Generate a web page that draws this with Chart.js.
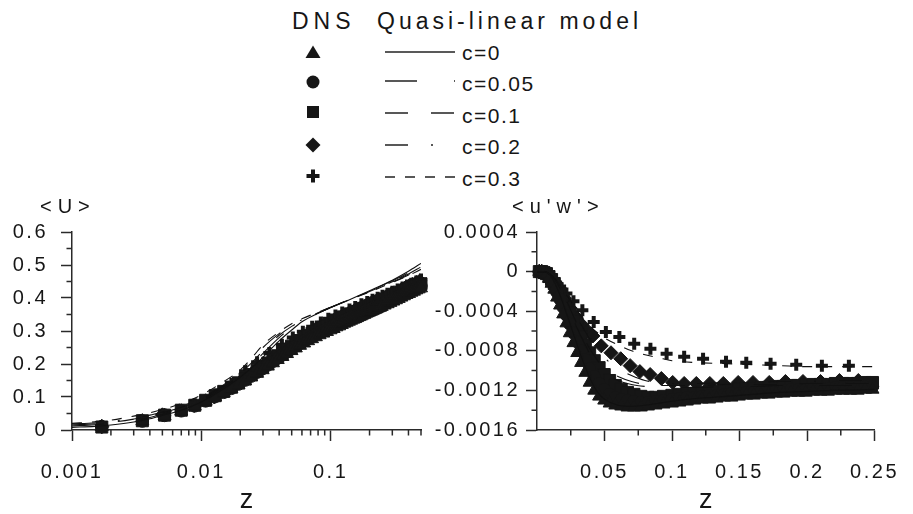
<!DOCTYPE html>
<html>
<head>
<meta charset="utf-8">
<script src="https://cdn.jsdelivr.net/npm/chart.js@4.4.1/dist/chart.umd.min.js"></script>
<style>
  html, body { margin:0; padding:0; background:#fff; width:913px; height:514px; overflow:hidden;
    font-family:"Liberation Sans", Arial, sans-serif; color:#161616; }
  #wrap { position:relative; width:913px; height:514px; }
  canvas { position:absolute; }
  #cL { left:0; top:190px; }
  #cR { left:430px; top:190px; }
  .lg { position:absolute; white-space:nowrap; line-height:1; }
  #lgsvg { position:absolute; left:0; top:0; }
</style>
</head>
<body>
<div id="wrap">
  <div class="lg" style="left:292px;top:10px;font-size:23px;letter-spacing:5px;">DNS</div>
  <div class="lg" style="left:377px;top:10px;font-size:23px;letter-spacing:4px;">Quasi-linear model</div>
  <svg id="lgsvg" width="913" height="200"></svg>
  <canvas id="cL" width="470" height="324"></canvas>
  <canvas id="cR" width="483" height="324"></canvas>
</div>
<script>
// ---------------- DATA ----------------
const legendLabels = ['c=0', 'c=0.05', 'c=0.1', 'c=0.2', 'c=0.3'];

// DNS wall-normal positions (triangles c=0, circles c=0.05, squares c=0.1)
const zDNS = [0.0017, 0.0035, 0.0052, 0.007, 0.0089, 0.0108, 0.0128, 0.0149, 0.0171, 0.0194,
  0.0218, 0.0243, 0.027, 0.0298, 0.0327, 0.0358, 0.039, 0.0424, 0.046, 0.0498,
  0.0538, 0.058, 0.0624, 0.067, 0.0718, 0.0769, 0.0822, 0.0878, 0.0937, 0.0999,
  0.1055, 0.111, 0.1165, 0.122, 0.1275, 0.133, 0.1385, 0.144, 0.1495, 0.155,
  0.1605, 0.166, 0.1715, 0.177, 0.1825, 0.188, 0.1935, 0.199, 0.2045, 0.21,
  0.2155, 0.221, 0.2265, 0.232, 0.2375, 0.243, 0.2485,
  0.262, 0.276, 0.29, 0.305, 0.32, 0.336, 0.352, 0.369, 0.386, 0.404, 0.422, 0.441, 0.46, 0.48, 0.5];
// DNS positions for diamonds (c=0.2) and crosses (c=0.3)
const zDia = [0.0017, 0.005, 0.0088, 0.0126, 0.0165, 0.0205, 0.0247, 0.029, 0.0335, 0.0375,
  0.0414, 0.0476, 0.0548, 0.062, 0.069, 0.0762, 0.0838, 0.0921, 0.1005, 0.109,
  0.118, 0.128, 0.138, 0.149, 0.16, 0.172, 0.184, 0.197, 0.21, 0.224,
  0.238, 0.252, 0.27, 0.29, 0.31, 0.33, 0.355, 0.38, 0.405, 0.43, 0.46, 0.49];
const zPlus = [0.0017, 0.0052, 0.0089, 0.0128, 0.0171, 0.0218, 0.027, 0.0336, 0.042, 0.051,
  0.061, 0.072, 0.084, 0.096, 0.109, 0.123, 0.14, 0.155, 0.173, 0.192,
  0.211, 0.231, 0.252, 0.275, 0.3, 0.33, 0.36, 0.39, 0.42, 0.46, 0.5];

// <U> DNS
const uTri = [0.010, 0.027, 0.043, 0.057, 0.072, 0.087, 0.1, 0.112, 0.124, 0.136,
  0.148, 0.16, 0.171, 0.182, 0.193, 0.203, 0.213, 0.222, 0.231, 0.24,
  0.248, 0.256, 0.263, 0.27, 0.276, 0.282, 0.288, 0.293, 0.298, 0.303,
  0.307, 0.312, 0.315, 0.319, 0.323, 0.326, 0.329, 0.332, 0.335, 0.337,
  0.34, 0.343, 0.345, 0.348, 0.35, 0.353, 0.355, 0.357, 0.359, 0.361,
  0.363, 0.365, 0.367, 0.369, 0.371, 0.372, 0.374,
  0.378, 0.382, 0.386, 0.39, 0.394, 0.398, 0.402, 0.406, 0.41, 0.413, 0.417, 0.42, 0.424, 0.427, 0.43];
const uCir = [0.010, 0.027, 0.044, 0.058, 0.073, 0.088, 0.101, 0.114, 0.126, 0.139,
  0.151, 0.163, 0.175, 0.186, 0.197, 0.208, 0.218, 0.228, 0.237, 0.246,
  0.255, 0.263, 0.27, 0.277, 0.284, 0.29, 0.296, 0.301, 0.307, 0.312,
  0.316, 0.321, 0.324, 0.328, 0.332, 0.335, 0.338, 0.341, 0.344, 0.346,
  0.349, 0.352, 0.354, 0.357, 0.359, 0.362, 0.364, 0.366, 0.368, 0.37,
  0.372, 0.374, 0.376, 0.378, 0.379, 0.38, 0.382,
  0.386, 0.39, 0.393, 0.397, 0.401, 0.405, 0.408, 0.412, 0.416, 0.419, 0.423, 0.426, 0.43, 0.433, 0.436];
const uSqr = [0.009, 0.028, 0.045, 0.06, 0.075, 0.09, 0.104, 0.117, 0.13, 0.143,
  0.155, 0.168, 0.18, 0.192, 0.203, 0.214, 0.225, 0.235, 0.245, 0.254,
  0.263, 0.271, 0.279, 0.286, 0.293, 0.299, 0.305, 0.311, 0.316, 0.322,
  0.326, 0.331, 0.334, 0.338, 0.342, 0.345, 0.348, 0.351, 0.354, 0.356,
  0.359, 0.362, 0.364, 0.367, 0.369, 0.372, 0.374, 0.376, 0.378, 0.38,
  0.382, 0.384, 0.386, 0.387, 0.388, 0.389, 0.391,
  0.394, 0.398, 0.402, 0.405, 0.409, 0.412, 0.416, 0.419, 0.423, 0.426, 0.43, 0.433, 0.436, 0.44, 0.443];
const uDia = [0.01, 0.046, 0.074, 0.1, 0.125, 0.15, 0.172, 0.19, 0.207, 0.22,
  0.232, 0.248, 0.263, 0.276, 0.287, 0.297, 0.306, 0.315, 0.323, 0.33,
  0.337, 0.344, 0.35, 0.356, 0.362, 0.368, 0.374, 0.379, 0.385, 0.39,
  0.395, 0.4, 0.405, 0.411, 0.416, 0.421, 0.427, 0.432, 0.437, 0.442, 0.447, 0.452];
const uPlus = [0.012, 0.047, 0.078, 0.108, 0.14, 0.178, 0.205, 0.233, 0.258, 0.28,
  0.298, 0.313, 0.326, 0.337, 0.347, 0.356, 0.365, 0.373, 0.381, 0.388,
  0.395, 0.401, 0.407, 0.413, 0.419, 0.426, 0.432, 0.438, 0.443, 0.45, 0.456];

// <u'w'> DNS (z <= 0.25)
const wTri = [0, 0, -0.00001, -0.00003, -0.00007, -0.00012, -0.00018, -0.00026, -0.00034, -0.00043,
  -0.00052, -0.00062, -0.00072, -0.00082, -0.00092, -0.00102, -0.00112, -0.0012, -0.00126, -0.0013,
  -0.00133, -0.00135, -0.00136, -0.00137, -0.00137, -0.00137, -0.00136, -0.00135, -0.00134, -0.00133,
  -0.00132, -0.00131, -0.0013, -0.00129, -0.00129, -0.00128, -0.00127, -0.00127, -0.00126, -0.00125,
  -0.00125, -0.00124, -0.00124, -0.00123, -0.00123, -0.00122, -0.00122, -0.00122, -0.00121, -0.00121,
  -0.00121, -0.0012, -0.0012, -0.0012, -0.0012, -0.00119, -0.00119];
const wCir = [0, 0, -0.00001, -0.00003, -0.00006, -0.0001, -0.00015, -0.00021, -0.00028, -0.00036,
  -0.00044, -0.00053, -0.00062, -0.00071, -0.0008, -0.00089, -0.00098, -0.00106, -0.00113, -0.00119,
  -0.00124, -0.00127, -0.00129, -0.0013, -0.00131, -0.00132, -0.00132, -0.00131, -0.0013, -0.00129,
  -0.00128, -0.00127, -0.00127, -0.00126, -0.00125, -0.00125, -0.00124, -0.00123, -0.00123, -0.00122,
  -0.00122, -0.00121, -0.00121, -0.0012, -0.0012, -0.00119, -0.00119, -0.00119, -0.00118, -0.00118,
  -0.00118, -0.00117, -0.00117, -0.00117, -0.00117, -0.00116, -0.00116];
const wSqr = [0, 0, -0.00001, -0.00002, -0.00005, -0.00008, -0.00012, -0.00017, -0.00022, -0.00028,
  -0.00035, -0.00042, -0.0005, -0.00058, -0.00066, -0.00074, -0.00082, -0.0009, -0.00097, -0.00104,
  -0.0011, -0.00115, -0.00119, -0.00122, -0.00124, -0.00126, -0.00127, -0.00127, -0.00126, -0.00125,
  -0.00124, -0.00123, -0.00123, -0.00122, -0.00121, -0.00121, -0.0012, -0.00119, -0.00119, -0.00118,
  -0.00118, -0.00117, -0.00117, -0.00116, -0.00116, -0.00115, -0.00115, -0.00115, -0.00114, -0.00114,
  -0.00114, -0.00113, -0.00113, -0.00113, -0.00113, -0.00112, -0.00112];
const wDia = [0, -0.00001, -0.00004, -0.0001, -0.00018, -0.00027, -0.00037, -0.00046, -0.00054, -0.0006,
  -0.00065, -0.00075, -0.00082, -0.00088, -0.00095, -0.00101, -0.00104, -0.00108, -0.00112, -0.00113,
  -0.00113, -0.00113, -0.00113, -0.00112, -0.00112, -0.00112, -0.00111, -0.00111, -0.00111, -0.0011, -0.0011];
const wPlus = [0, -0.00001, -0.00003, -0.00008, -0.00015, -0.00022, -0.0003, -0.00039, -0.00051, -0.00061,
  -0.00066, -0.00073, -0.00078, -0.00083, -0.00086, -0.00088, -0.00091, -0.00092, -0.00093, -0.00094,
  -0.00095, -0.00095];

// Quasi-linear model, <U>
const zModelU = [0.001, 0.0015, 0.002, 0.003, 0.004, 0.005, 0.007, 0.01, 0.014, 0.02, 0.025,
  0.03, 0.04, 0.05, 0.06, 0.08, 0.1, 0.14, 0.2, 0.3, 0.4, 0.5];
const uM0 = [0.008, 0.011, 0.015, 0.024, 0.034, 0.044, 0.06, 0.085, 0.118, 0.16, 0.192,
  0.221, 0.27, 0.303, 0.328, 0.354, 0.371, 0.395, 0.422, 0.454, 0.481, 0.505];
const uM1 = [0.012, 0.016, 0.02, 0.029, 0.038, 0.048, 0.065, 0.09, 0.123, 0.166, 0.2,
  0.232, 0.28, 0.31, 0.329, 0.354, 0.371, 0.395, 0.421, 0.452, 0.476, 0.498];
const uM2 = [0.015, 0.019, 0.023, 0.033, 0.042, 0.052, 0.069, 0.094, 0.127, 0.171, 0.207,
  0.24, 0.287, 0.314, 0.331, 0.355, 0.371, 0.395, 0.42, 0.45, 0.473, 0.494];
const uM3 = [0.018, 0.022, 0.026, 0.036, 0.045, 0.055, 0.072, 0.097, 0.13, 0.176, 0.215,
  0.25, 0.292, 0.318, 0.334, 0.356, 0.372, 0.395, 0.419, 0.449, 0.47, 0.49];
const uM4 = [0.02, 0.025, 0.03, 0.042, 0.052, 0.062, 0.08, 0.106, 0.14, 0.182, 0.222,
  0.258, 0.297, 0.322, 0.337, 0.357, 0.372, 0.395, 0.418, 0.447, 0.468, 0.487];

// Quasi-linear model, <u'w'>
const zModelW = [0, 0.005, 0.01, 0.015, 0.02, 0.025, 0.03, 0.035, 0.04, 0.045, 0.05, 0.06,
  0.07, 0.08, 0.09, 0.1, 0.12, 0.14, 0.16, 0.18, 0.2, 0.22, 0.25];
const wM0 = [0, 0, -0.00004, -0.00017, -0.00035, -0.00055, -0.00075, -0.00094, -0.0011, -0.00122, -0.00129, -0.00135,
  -0.00136, -0.00135, -0.00133, -0.00131, -0.00128, -0.00126, -0.00124, -0.00122, -0.00121, -0.0012, -0.00119];
const wM1 = [0, 0, -0.00003, -0.00012, -0.00026, -0.00042, -0.00058, -0.00072, -0.00085, -0.00095, -0.00102, -0.0011,
  -0.00114, -0.00116, -0.00117, -0.00117, -0.00117, -0.00116, -0.00116, -0.00115, -0.00115, -0.00115, -0.00115];
const wM2 = [0, 0, -0.00003, -0.00011, -0.00024, -0.00039, -0.00054, -0.00068, -0.0008, -0.0009, -0.00098, -0.00106,
  -0.00111, -0.00114, -0.00115, -0.00115, -0.00115, -0.00114, -0.00114, -0.00114, -0.00113, -0.00113, -0.00113];
const wM3 = [0, 0, -0.00003, -0.0001, -0.00021, -0.00034, -0.00047, -0.00059, -0.0007, -0.00079, -0.00087, -0.00098,
  -0.00105, -0.0011, -0.00112, -0.00113, -0.00113, -0.00112, -0.00112, -0.00111, -0.00111, -0.0011, -0.0011];
const wM4 = [0, 0, -0.00003, -0.0001, -0.0002, -0.0003, -0.0004, -0.00049, -0.00056, -0.00062, -0.00067, -0.00074,
  -0.0008, -0.00084, -0.00087, -0.0009, -0.00092, -0.00093, -0.00094, -0.00095, -0.00096, -0.00096, -0.00096];

// Ticks
const xMajorL = [0.001, 0.01, 0.1];
const xLabelsL = ['0.001', '0.01', '0.1'];
const xMinorL = [0.002, 0.003, 0.004, 0.005, 0.006, 0.007, 0.008, 0.009,
  0.02, 0.03, 0.04, 0.05, 0.06, 0.07, 0.08, 0.09, 0.2, 0.3, 0.4, 0.5];
const yMajorL = [0, 0.1, 0.2, 0.3, 0.4, 0.5, 0.6];
const yLabelsL = ['0', '0.1', '0.2', '0.3', '0.4', '0.5', '0.6'];
const yMinorL = [0.05, 0.15, 0.25, 0.35, 0.45, 0.55];
const xMajorR = [0.05, 0.1, 0.15, 0.2, 0.25];
const xLabelsR = ['0.05', '0.1', '0.15', '0.2', '0.25'];
const xMinorR = [0.025, 0.075, 0.125, 0.175, 0.225];
const yMajorR = [-0.0016, -0.0012, -0.0008, -0.0004, 0, 0.0004];
const yLabelsR = ['-0.0016', '-0.0012', '-0.0008', '-0.0004', '0', '0.0004'];
const yMinorR = [-0.0014, -0.001, -0.0006, -0.0002, 0.0002];

// ---------------- STYLE / BUILD ----------------
const INK = '#161616';
const AX = '#2a2a2a';
const FONT = '"Liberation Sans", Arial, sans-serif';
const dashes = [[], [32, 37], [23, 23], [23, 23, 2, 23], [10, 10]];

function pts(xs, ys) { return ys.map((v, i) => ({ x: xs[i], y: v })); }
function markerSet(data, style, r, bw) {
  return { data, showLine: false, pointStyle: style, pointRadius: r, pointHoverRadius: r,
    pointBackgroundColor: INK, pointBorderColor: INK, pointBorderWidth: bw, clip: false, order: 2 };
}
function lineSet(data, dash) {
  return { data, showLine: true, pointRadius: 0, pointHoverRadius: 0, borderColor: '#111',
    borderWidth: 1.1, borderDash: dash, fill: false, cubicInterpolationMode: 'monotone', order: 1 };
}
function dnsSets(a, b, c, d, e) {
  return [markerSet(a, 'triangle', 7.5, 1), markerSet(b, 'circle', 6.2, 1),
    markerSet(c, 'rect', 8.5, 1), markerSet(d, 'rectRot', 7, 1), markerSet(e, 'cross', 6, 4)];
}

function decoPlugin(cfg) {
  return {
    id: 'deco',
    beforeDraw(chart) { chart.ctx.letterSpacing = '2.5px'; },
    afterDraw(chart) {
      const ctx = chart.ctx, xs = chart.scales.x, ys = chart.scales.y, ca = chart.chartArea;
      ctx.save();
      ctx.letterSpacing = '0px';
      ctx.strokeStyle = AX; ctx.lineWidth = 1.5;
      ctx.beginPath();
      cfg.xMinor.forEach(v => { const p = xs.getPixelForValue(v); ctx.moveTo(p, ca.bottom); ctx.lineTo(p, ca.bottom + 5.5); });
      cfg.yMinor.forEach(v => { const p = ys.getPixelForValue(v); ctx.moveTo(ca.left, p); ctx.lineTo(ca.left - 5.5, p); });
      ctx.stroke();
      ctx.fillStyle = INK;
      ctx.font = '20px ' + FONT;
      ctx.letterSpacing = '6px';
      ctx.textAlign = 'left'; ctx.textBaseline = 'alphabetic';
      ctx.fillText(cfg.yTitle, ca.left + cfg.yTitleDx, ca.top - 19);
      ctx.letterSpacing = '0px';
      ctx.font = '27px ' + FONT;
      ctx.textAlign = 'center';
      ctx.fillText('z', (ca.left + ca.right) / 2, ca.bottom + 78);
      ctx.restore();
    }
  };
}

function scaleCfg(kind, type, min, max, majors, labels, fit, pad) {
  return {
    type, min, max, position: kind === 'x' ? 'bottom' : 'left',
    afterBuildTicks: s => { s.ticks = majors.map(v => ({ value: v })); },
    afterFit: s => { if (kind === 'x') s.height = fit; else s.width = fit; },
    ticks: { autoSkip: false, maxRotation: 0, minRotation: 0, padding: pad, color: INK,
      font: { family: FONT, size: 20 }, callback: (v, i) => labels[i] },
    grid: { display: true, drawOnChartArea: false, drawTicks: true, tickLength: 11, tickColor: AX, tickWidth: 1.5 },
    border: { display: true, color: AX, width: 1.5 }
  };
}

// Left chart: <U>
new Chart(document.getElementById('cL'), {
  type: 'scatter',
  data: { datasets: [
    lineSet(pts(zModelU, uM0), dashes[0]), lineSet(pts(zModelU, uM1), dashes[1]),
    lineSet(pts(zModelU, uM2), dashes[2]), lineSet(pts(zModelU, uM3), dashes[3]),
    lineSet(pts(zModelU, uM4), dashes[4]),
    ...dnsSets(pts(zDNS, uTri), pts(zDNS, uCir), pts(zDNS, uSqr), pts(zDia, uDia), pts(zPlus, uPlus))
  ] },
  options: {
    responsive: false, animation: false, events: [],
    layout: { padding: { top: 42, right: 49, left: 0, bottom: 0 } },
    plugins: { legend: { display: false }, tooltip: { enabled: false } },
    scales: {
      x: scaleCfg('x', 'logarithmic', 0.001, 0.5, xMajorL, xLabelsL, 84, 19),
      y: scaleCfg('y', 'linear', 0, 0.6, yMajorL, yLabelsL, 72, 13)
    }
  },
  plugins: [decoPlugin({ xMinor: xMinorL, yMinor: yMinorL, yTitle: '<U>', yTitleDx: -32 })]
});

// Right chart: <u'w'>
new Chart(document.getElementById('cR'), {
  type: 'scatter',
  data: { datasets: [
    lineSet(pts(zModelW, wM0), dashes[0]), lineSet(pts(zModelW, wM1), dashes[1]),
    lineSet(pts(zModelW, wM2), dashes[2]), lineSet(pts(zModelW, wM3), dashes[3]),
    lineSet(pts(zModelW, wM4), dashes[4]),
    ...dnsSets(pts(zDNS, wTri), pts(zDNS, wCir), pts(zDNS, wSqr), pts(zDia, wDia), pts(zPlus, wPlus))
  ] },
  options: {
    responsive: false, animation: false, events: [],
    layout: { padding: { top: 42, right: 26, left: 0, bottom: 0 } },
    plugins: { legend: { display: false }, tooltip: { enabled: false } },
    scales: {
      x: scaleCfg('x', 'linear', 0, 0.25, xMajorR, xLabelsR, 84, 19),
      y: scaleCfg('y', 'linear', -0.0016, 0.0004, yMajorR, yLabelsR, 107, 6)
    }
  },
  plugins: [decoPlugin({ xMinor: xMinorR, yMinor: yMinorR, yTitle: "<u'w'>", yTitleDx: -25 })]
});

// ---------------- LEGEND ----------------
(function buildLegend() {
  const svg = document.getElementById('lgsvg');
  const NS = 'http://www.w3.org/2000/svg';
  const mk = (tag, attrs) => { const e = document.createElementNS(NS, tag); for (const k in attrs) e.setAttribute(k, attrs[k]); svg.appendChild(e); return e; };
  const rowY = [52, 82, 112, 145, 176];
  const lineY = [52, 81, 113, 145, 177];
  const textTop = [42, 73, 105, 136, 168];
  const cx = 313;
  mk('polygon', { points: `${cx - 7.5},${rowY[0] + 6} ${cx + 7.5},${rowY[0] + 6} ${cx},${rowY[0] - 6.5}`, fill: INK });
  mk('circle', { cx, cy: rowY[1], r: 6.5, fill: INK });
  mk('rect', { x: cx - 6, y: rowY[2] - 6, width: 12, height: 12, fill: INK });
  mk('polygon', { points: `${cx},${rowY[3] - 7.5} ${cx + 7.5},${rowY[3]} ${cx},${rowY[3] + 7.5} ${cx - 7.5},${rowY[3]}`, fill: INK });
  mk('rect', { x: cx - 6.5, y: rowY[4] - 2, width: 13, height: 4, fill: INK });
  mk('rect', { x: cx - 2, y: rowY[4] - 6.5, width: 4, height: 13, fill: INK });
  legendLabels.forEach((lab, i) => {
    mk('line', { x1: 385, x2: 455, y1: lineY[i], y2: lineY[i], stroke: '#222', 'stroke-width': 1.4,
      'stroke-dasharray': dashes[i].length ? dashes[i].join(' ') : 'none' });
    const d = document.createElement('div');
    d.className = 'lg';
    d.style.cssText = `left:462px;top:${textTop[i]}px;font-size:21px;letter-spacing:1.5px;`;
    d.textContent = lab;
    document.getElementById('wrap').appendChild(d);
  });
})();
</script>
</body>
</html>
